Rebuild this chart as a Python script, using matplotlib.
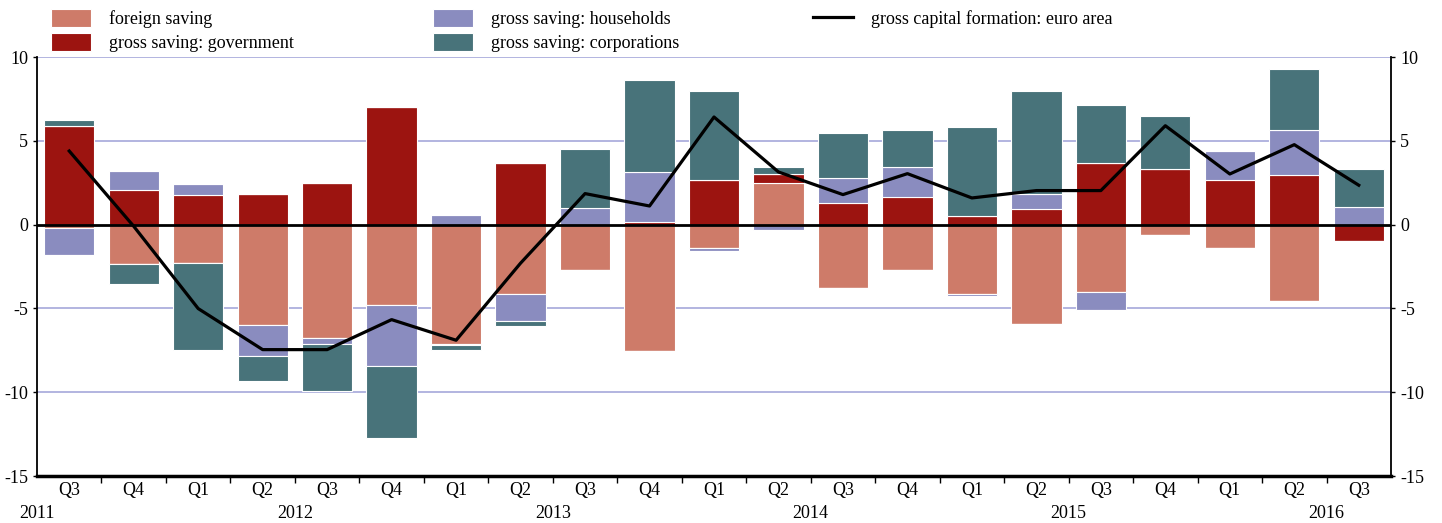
import numpy as np
import matplotlib
matplotlib.use("Agg")
import matplotlib.pyplot as plt
from matplotlib.transforms import blended_transform_factory

plt.rcParams['font.family'] = ['Liberation Serif', 'DejaVu Serif']
plt.rcParams['axes.unicode_minus'] = False

quarters = ["Q3", "Q4", "Q1", "Q2", "Q3", "Q4", "Q1", "Q2", "Q3", "Q4", "Q1",
            "Q2", "Q3", "Q4", "Q1", "Q2", "Q3", "Q4", "Q1", "Q2", "Q3"]
years = ["2011", "2012", "2013", "2014", "2015", "2016"]
year_start_index = [-2, 2, 6, 10, 14, 18]

foreign = [-0.22, -2.33, -2.29, -6.02, -6.74, -4.81, -7.10, -4.17, -2.70, -7.55, -1.37,
           2.50, -3.76, -2.68, -4.12, -5.96, -4.02, -0.64, -1.37, -4.57, 0.0]
government = [5.86, 2.05, 1.79, 1.83, 2.49, 7.00, -0.10, 3.68, 0.0, 0.14, 2.66,
              0.50, 1.29, 1.65, 0.54, 0.93, 3.68, 3.34, 2.68, 2.98, -0.98]
households = [-1.61, 1.13, 0.64, -1.83, -0.36, -3.60, 0.60, -1.58, 0.99, 2.98, -0.22,
              -0.34, 1.47, 1.77, -0.15, 0.92, -1.09, 0.0, 1.73, 2.69, 1.03]
corporations = [0.36, -1.19, -5.21, -1.47, -2.84, -4.31, -0.26, -0.31, 3.54, 5.48, 5.34,
                0.44, 2.71, 2.25, 5.26, 6.10, 3.44, 3.12, 0.0, 3.59, 2.29]
gcf = [4.39, -0.10, -5.01, -7.46, -7.46, -5.67, -6.90, -2.30, 1.85, 1.11, 6.42,
       3.14, 1.79, 3.04, 1.59, 2.03, 2.03, 5.90, 3.02, 4.77, 2.35]

series = [
    ("foreign saving", foreign, "#CE7B69"),
    ("gross saving: government", government, "#9C1410"),
    ("gross saving: households", households, "#8A8CBF"),
    ("gross saving: corporations", corporations, "#48737A"),
]

FS = 13
W, H = 1442, 523
fig = plt.figure(figsize=(W / 100, H / 100), dpi=100)
ax = fig.add_axes([37 / W, (H - 476) / H, (1391 - 37) / W, (476 - 57) / H])

x = np.arange(len(quarters))
pos_base = np.zeros(len(x))
neg_base = np.zeros(len(x))
handles = []
for name, vals, color in series:
    v = np.array(vals, dtype=float)
    p = np.where(v > 0, v, 0)
    n = np.where(v < 0, v, 0)
    b1 = ax.bar(x, p, bottom=pos_base, width=0.78, color=color, edgecolor="white",
                linewidth=0.8, zorder=2, label=name)
    ax.bar(x, n, bottom=neg_base, width=0.78, color=color, edgecolor="white",
           linewidth=0.8, zorder=2)
    pos_base += p
    neg_base += n
    handles.append(b1)

ax.axhline(0, color="black", lw=2, zorder=3)
line, = ax.plot(x, gcf, color="black", lw=2.3, zorder=4,
                label="gross capital formation: euro area")

ax.set_xlim(-0.5, len(x) - 0.5)
ax.set_ylim(-15, 10)
ax.set_yticks([-15, -10, -5, 0, 5, 10])
for yv in [-10, -5, 5, 10]:
    ax.axhline(yv, color="#A6A8DA", lw=1.2, zorder=1)

ax.tick_params(axis="y", which="both", left=True, right=True, labelleft=True,
               labelright=True, length=3, width=1, labelsize=FS, pad=3.5)
ax.set_xticks(np.arange(len(x) - 1) + 0.5)
ax.set_xticklabels([])
ax.set_xticks(x, minor=True)
ax.set_xticklabels(quarters, minor=True)
ax.tick_params(axis="x", which="major", length=5, width=1, direction="out")
ax.tick_params(axis="x", which="minor", length=0, labelsize=FS, pad=4)

ax.spines["top"].set_visible(False)
ax.spines["left"].set_linewidth(1.3)
ax.spines["right"].set_linewidth(1.3)
ax.spines["bottom"].set_linewidth(2.5)

trans = blended_transform_factory(ax.transData, fig.transFigure)
for yr, si in zip(years, year_start_index):
    ax.text(si + 1.5, (H - 513) / H, yr, transform=trans, ha="center", va="center",
            fontsize=FS, clip_on=False)

common = dict(frameon=False, fontsize=FS, handlelength=2.2, handleheight=1.15,
              handletextpad=1.0, labelspacing=0.27, borderpad=0, borderaxespad=0,
              loc="upper left", bbox_transform=fig.transFigure)
top = 1 - 9 / H
fig.legend(handles=handles[0:2], bbox_to_anchor=(51 / W, top), **common)
fig.legend(handles=handles[2:4], bbox_to_anchor=(433 / W, top), **common)
fig.legend(handles=[line], bbox_to_anchor=(813 / W, top), **common)

fig.savefig("out.png", dpi=100)
